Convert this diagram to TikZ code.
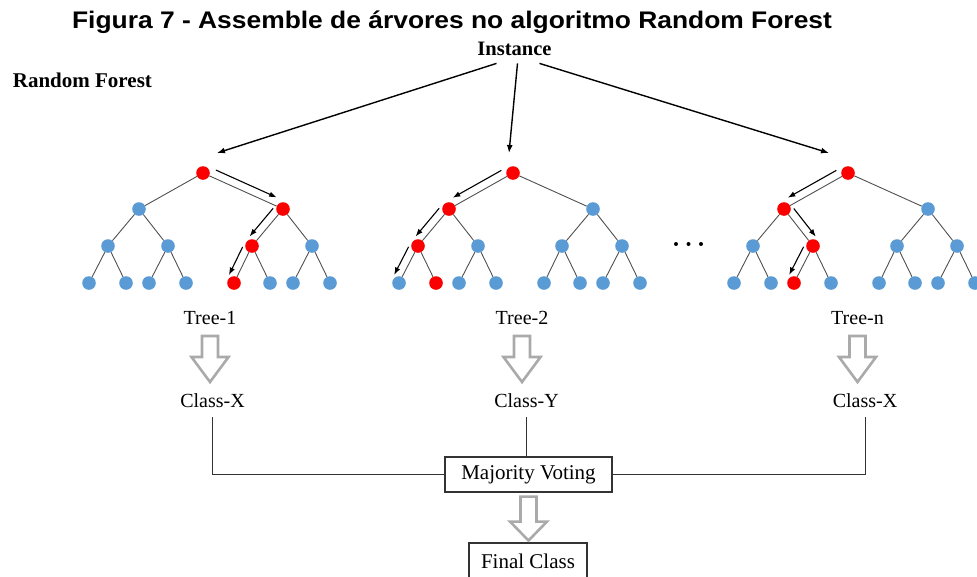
\documentclass[tikz,border=0pt]{standalone}
\usepackage{fontspec}
\setmainfont{Liberation Serif}
\newfontfamily\headfont{Liberation Sans}
\usetikzlibrary{calc,arrows.meta}

\definecolor{leafblue}{RGB}{91,155,213}
\definecolor{hitred}{RGB}{250,0,0}
\definecolor{branchgray}{RGB}{80,80,80}
\definecolor{hollowgray}{RGB}{170,170,170}

\tikzset{
  leaf/.style={circle, inner sep=0pt, minimum size=13.6pt},
  branch/.style={draw=branchgray, line width=0.9pt},
  walkarrow/.style={-{Latex[length=7.5pt,width=5.5pt]}, line width=1.1pt},
  inarrow/.style={-{Latex[length=8pt,width=6pt]}, line width=1.4pt},
  hollow/.style={draw=hollowgray, line width=2.6pt, line join=miter},
  txt/.style={font=\fontsize{20}{23}\selectfont, inner sep=0pt, anchor=base},
  box/.style={draw=black!80, line width=1.1pt, inner sep=0pt, font=\fontsize{21}{24}\selectfont},
  wire/.style={draw=black!80, line width=1pt}
}

% one tree: #1 name, #2 x of the root, #3 nodes on the walked path
\newcommand{\foresttree}[3]{
  \foreach \r in {#3} {\expandafter\xdef\csname hit#1\r\endcsname{}}
  \foreach \k/\dx/\y in {1/0/173, 2/-64/209, 3/80/209,
      4/-95/246, 5/-35/246, 6/49/246, 7/109/246,
      8/-114/283, 9/-77/283, 10/-54/283, 11/-17/283,
      12/31/283, 13/67/283, 14/90/283, 15/127/283} {
    \ifcsname hit#1\k\endcsname \def\col{hitred}\else \def\col{leafblue}\fi
    \node[leaf, fill=\col] (#1n\k) at ({#2+\dx},\y) {};
  }
  \foreach \k in {2,...,15} {
    \pgfmathtruncatemacro{\p}{\k/2}
    \draw[branch] (#1n\p) -- (#1n\k);
  }
}
% small arrow beside a branch, #3 = side (90 or -90)
\newcommand{\walk}[3]{\draw[walkarrow] ($(#1)!0.12!(#2)!8pt!#3:(#2)$) -- ($(#1)!0.88!(#2)!8pt!#3:(#2)$);}
% grey hollow arrow below a node: #2 gap, #3 shaft, #4 head
\newcommand{\hollowdown}[4]{\draw[hollow] ([shift={(-8,#2)}]#1) -- ++(0,#3) -- ++(-10.5,0) -- ++(18.5,#4) -- ++(18.5,-#4) -- ++(-10.5,0) -- ++(0,-#3) -- cycle;}

\begin{document}
\begin{tikzpicture}[x=1pt, y=-1pt]
\useasboundingbox (0,0) rectangle (977,576);
\clip (0,0) rectangle (977,576);

\node[font=\headfont\bfseries\fontsize{24}{28}\selectfont, inner sep=0pt, anchor=base] (title) at (452,28)
  {\scalebox{1.1}[1]{Figura 7 - Assemble de árvores no algoritmo Random Forest}};
\node[font=\bfseries\fontsize{21}{24}\selectfont, inner sep=0pt, anchor=base west] (forest) at (12.7,87) {Random Forest};
\node[font=\bfseries\fontsize{20.5}{24}\selectfont, inner sep=0pt, anchor=base] (inst) at (514.5,55) {Instance};

% the trees
\foresttree{t1}{203}{1,3,6,12}
\foresttree{t2}{513}{1,2,4,9}
\foresttree{tn}{848}{1,2,5,10}

% instance goes to every tree
\draw[inarrow] ([shift={(-18,8)}]inst.south) -- ([shift={(14,-20)}]t1n1.center);
\draw[inarrow] ([shift={(3,8)}]inst.south) -- ([shift={(-4,-20)}]t2n1.center);
\draw[inarrow] ([shift={(25,8)}]inst.south) -- ([shift={(-19,-20)}]tnn1.center);

% walked paths
\walk{t1n1}{t1n3}{90}
\walk{t1n3}{t1n6}{-90}
\walk{t1n6}{t1n12}{-90}
\walk{t2n1}{t2n2}{-90}
\walk{t2n2}{t2n4}{-90}
\walk{t2n4}{t2n8}{-90}
\walk{tnn1}{tnn2}{-90}
\walk{tnn2}{tnn5}{90}
\walk{tnn5}{tnn10}{-90}

\fill (676,244) circle (2pt);
\fill (688.5,244) circle (2pt);
\fill (701,244) circle (2pt);

% results
\node[txt] (tree1) at (210,324) {Tree-1};
\node[txt] (tree2) at (522,324) {Tree-2};
\node[txt] (treen) at (857.5,324) {Tree-n};
\node[txt] (cls1) at (212.5,407) {Class-X};
\node[txt] (cls2) at (526.5,407) {Class-Y};
\node[txt] (clsn) at (865,407) {Class-X};
\hollowdown{tree1.base}{12}{21}{25}
\hollowdown{tree2.base}{12}{21}{25}
\hollowdown{treen.base}{12}{21}{25}

\node[box, minimum width=167pt, minimum height=35pt] (vote) at (528.5,474.5) {Majority Voting};
\node[box, minimum width=118pt, minimum height=36pt] (final) at (528,561) {Final Class};
\draw[wire] ([shift={(0,10)}]cls1.base) |- (vote.west);
\draw[wire] ([shift={(0,10)}]cls2.base) -- (cls2.base |- vote.north);
\draw[wire] ([shift={(0,10)}]clsn.base) |- (vote.east);
\hollowdown{vote.south}{4}{25}{19}
\end{tikzpicture}
\end{document}
